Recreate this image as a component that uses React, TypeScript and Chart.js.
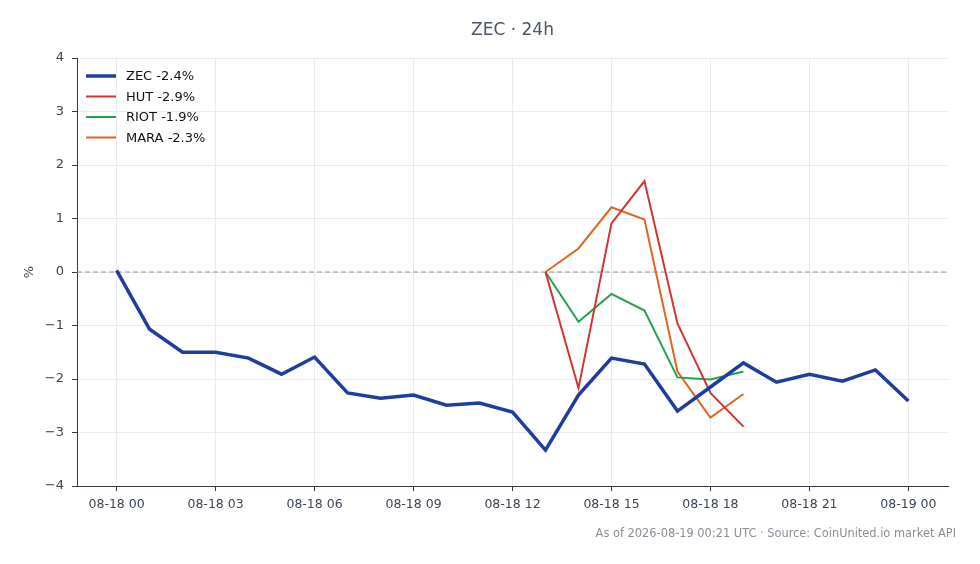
import React, { useRef, useEffect } from "react";
import { Chart, registerables } from "chart.js";

Chart.register(...registerables);

// hours since 08-18 00:00 UTC
const hours = [0, 1, 2, 3, 4, 5, 6, 7, 8, 9, 10, 11, 12, 13, 14, 15, 16, 17, 18, 19, 20, 21, 22, 23, 24];
const tickHours = [0, 3, 6, 9, 12, 15, 18, 21, 24];
const tickLabels = ["08-18 00", "08-18 03", "08-18 06", "08-18 09", "08-18 12", "08-18 15", "08-18 18", "08-18 21", "08-19 00"];

const zec = [0.03, -1.07, -1.5, -1.5, -1.61, -1.91, -1.59, -2.26, -2.36, -2.3, -2.49, -2.45, -2.62, -3.33, -2.3, -1.61, -1.72, -2.6, -2.15, -1.7, -2.06, -1.91, -2.04, -1.83, -2.41];
// stocks only trade 13h..19h
const stockHours = [13, 14, 15, 16, 17, 18, 19];
const hut = [0, -2.17, 0.91, 1.7, -0.96, -2.26, -2.89];
const riot = [0, -0.93, -0.41, -0.72, -1.97, -2.01, -1.86];
const mara = [0, 0.44, 1.21, 0.98, -1.86, -2.72, -2.28];

const FONT = "'DejaVu Sans', sans-serif";

const toPoints = (xs, ys) => xs.map((x, i) => ({ x, y: ys[i] }));

const decorPlugin = {
  id: "decor",
  beforeDatasetsDraw(chart) {
    const { ctx, chartArea, scales } = chart;
    const y0 = scales.y.getPixelForValue(0);
    ctx.save();
    ctx.strokeStyle = "#8595a8";
    ctx.lineWidth = 1;
    ctx.setLineDash([5, 3]);
    ctx.beginPath();
    ctx.moveTo(chartArea.left, y0);
    ctx.lineTo(chartArea.right, y0);
    ctx.stroke();
    ctx.restore();
  },
  afterDraw(chart) {
    const { ctx, chartArea, width } = chart;
    ctx.save();
    // title
    ctx.fillStyle = "#4a5565";
    ctx.font = `17px ${FONT}`;
    ctx.textAlign = "center";
    ctx.textBaseline = "middle";
    ctx.fillText("ZEC · 24h", (chartArea.left + chartArea.right) / 2, 31);
    // footer
    ctx.fillStyle = "#8a8f96";
    ctx.font = `11.4px ${FONT}`;
    ctx.textAlign = "right";
    ctx.fillText("As of 2026-08-19 00:21 UTC · Source: CoinUnited.io market API", width - 24, 534);
    // legend inside plot
    ctx.font = `13px ${FONT}`;
    ctx.textAlign = "left";
    chart.data.datasets.forEach((ds, i) => {
      const y = 76 + i * 20.5;
      ctx.strokeStyle = ds.borderColor;
      ctx.lineWidth = ds.borderWidth;
      ctx.beginPath();
      ctx.moveTo(86, y);
      ctx.lineTo(116, y);
      ctx.stroke();
      ctx.fillStyle = "#111";
      ctx.fillText(ds.label, 126, y + 1);
    });
    ctx.restore();
  },
};

const App = () => {
  const canvasRef = useRef(null);

  useEffect(() => {
    document.body.style.margin = "0";
    const chart = new Chart(canvasRef.current, {
      type: "line",
      data: {
        datasets: [
          { label: "ZEC -2.4%", data: toPoints(hours, zec), borderColor: "#1f3d9c", borderWidth: 3.5 },
          { label: "HUT -2.9%", data: toPoints(stockHours, hut), borderColor: "#d03434", borderWidth: 2 },
          { label: "RIOT -1.9%", data: toPoints(stockHours, riot), borderColor: "#27a04e", borderWidth: 2 },
          { label: "MARA -2.3%", data: toPoints(stockHours, mara), borderColor: "#e0661f", borderWidth: 2 },
        ],
      },
      options: {
        animation: false,
        responsive: false,
        elements: { point: { radius: 0 }, line: { tension: 0, borderJoinStyle: "miter" } },
        layout: { padding: { top: 58, right: 32, left: 0, bottom: 0 } },
        plugins: { legend: { display: false }, title: { display: false }, tooltip: { enabled: false } },
        scales: {
          x: {
            type: "linear",
            min: -1.2,
            max: 25.2,
            afterBuildTicks: (axis) => {
              axis.ticks = tickHours.map((v) => ({ value: v }));
            },
            afterFit: (scale) => {
              scale.height = 78;
            },
            ticks: {
              callback: (v) => tickLabels[tickHours.indexOf(v)] ?? "",
              color: "#3d4654",
              font: { family: FONT, size: 12.5 },
              padding: 6,
              maxRotation: 0,
              autoSkip: false,
            },
            grid: { color: "#e8ecf1", tickColor: "#333b48", tickLength: 5 },
            border: { color: "#333b48", width: 1 },
          },
          y: {
            min: -4,
            max: 4,
            afterFit: (scale) => {
              scale.width = 77;
            },
            ticks: {
              stepSize: 1,
              callback: (v) => String(v).replace("-", "\u2212"),
              color: "#3d4654",
              font: { family: FONT, size: 13 },
              padding: 8,
            },
            title: { display: true, text: "%", color: "#3d4654", font: { family: FONT, size: 13 }, padding: { top: 22, bottom: 0 } },
            grid: { color: "#e8ecf1", tickColor: "#333b48", tickLength: 5 },
            border: { color: "#333b48", width: 1 },
          },
        },
      },
      plugins: [decorPlugin],
    });
    return () => chart.destroy();
  }, []);

  return (
    <div style={{ width: 980, height: 564 }}>
      <canvas ref={canvasRef} width={980} height={564}></canvas>
    </div>
  );
};

export default App;
